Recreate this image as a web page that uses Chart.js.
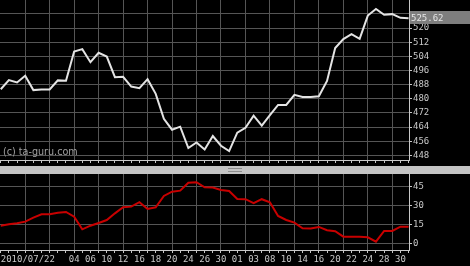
<!DOCTYPE html>
<html>
<head>
<meta charset="utf-8">
<script src="https://cdn.jsdelivr.net/npm/chart.js@4.4.0/dist/chart.umd.min.js"></script>
<style>
  html, body { margin: 0; padding: 0; background: #000; }
  #wrap { position: relative; width: 470px; height: 266px; background: #000; overflow: hidden; }
  #priceChart { position: absolute; left: 0; top: 0; }
  #split { position: absolute; left: 0; top: 166px; width: 470px; height: 8px; background: #c4c4c4; }
  #grip { position: absolute; left: 228px; top: 2px; width: 14px; height: 2px; border-top: 1px solid #8c8c8c; border-bottom: 1px solid #8c8c8c; }
  #oscChart { position: absolute; left: 0; top: 174px; }
  #credit { position: absolute; left: 3px; top: 146px; font: 9.6px "DejaVu Sans"; color: #a0a0a0; }
</style>
</head>
<body>
<div id="wrap">
  <canvas id="priceChart" width="470" height="166"></canvas>
  <div id="credit">(c) ta-guru.com</div>
  <div id="split"><div id="grip"></div></div>
  <canvas id="oscChart" width="470" height="92"></canvas>
</div>
<script>
// daily closes, 2010/07/22 .. 2010/10/01
const closeValues = [
  485.4, 490.6, 489.2, 493.0, 484.9, 485.3, 485.3, 490.4, 490.2, 506.7,
  508.1, 500.7, 506.0, 503.9, 492.2, 492.4, 486.9, 486.0, 491.1, 482.8,
  468.7, 462.5, 464.2, 452.1, 455.3, 451.3, 458.9, 453.4, 450.4, 460.8,
  463.6, 470.4, 464.8, 470.8, 476.5, 476.5, 482.2, 481.0, 481.0, 481.4,
  490.1, 508.7, 513.8, 516.6, 513.9, 527.1, 530.8, 527.5, 527.9, 525.8,
  525.62
];

// lower panel indicator
const oscValues = [
  14.2, 15.3, 16.1, 17.4, 20.6, 23.3, 23.3, 24.5, 25.1, 21.3,
  11.3, 14.2, 16.3, 18.7, 24.0, 28.8, 29.3, 32.8, 27.5, 28.8,
  37.8, 41.2, 42.0, 48.3, 48.7, 44.7, 44.4, 42.5, 41.7, 35.4,
  35.2, 32.0, 35.2, 32.8, 21.9, 18.7, 16.6, 12.1, 12.0, 13.2,
  10.6, 9.8, 5.5, 5.5, 5.5, 5.0, 1.5, 10.0, 10.0, 13.4,
  13.4
];

const xTickLabels = [
  '2010/07/22', '', '', '', '', '', '', '', '', '04',
  '', '06', '', '10', '', '12', '', '16', '', '18',
  '', '20', '', '24', '', '26', '', '30', '', '01',
  '', '03', '', '08', '', '10', '', '14', '', '16',
  '', '20', '', '22', '', '24', '', '28', '', '30',
  ''
];

const priceTicks = { min: 445.34, max: 535.9, step: 8 };
const oscTicks = { min: -5.1, max: 55.2, step: 15 };

const gridGrey = '#555555';
const axisGrey = '#c8c8c8';
const tickFont = { family: 'DejaVu Sans Mono', size: 9 };

function xAxis(showLabels, height) {
  return {
    type: 'linear',
    min: -0.09,
    max: 50.05,
    ticks: {
      stepSize: 1,
      includeBounds: false,
      display: showLabels,
      autoSkip: false,
      maxRotation: 0,
      align: 'inner',
      color: axisGrey,
      font: tickFont,
      padding: 1,
      callback: (v) => xTickLabels[v] || '',
    },
    grid: {
      color: (c) => (c.tick && c.tick.value > 0 && c.tick.value % 3 === 0 ? gridGrey : 'rgba(0,0,0,0)'),
      tickColor: axisGrey,
      tickLength: 3,
    },
    border: { display: true, color: axisGrey },
    afterFit: (s) => {
      s.height = height;
      s.paddingLeft = 0;
      s.paddingRight = 0;
    },
  };
}

function yAxis(range, hideValue) {
  return {
    position: 'right',
    min: range.min,
    max: range.max,
    ticks: {
      stepSize: range.step,
      includeBounds: false,
      color: axisGrey,
      font: tickFont,
      padding: 1,
      callback: (v) => (hideValue !== null && Math.abs(v - hideValue) < 5 ? '' : v),
    },
    grid: { color: gridGrey, tickColor: axisGrey, tickLength: 3 },
    border: { color: axisGrey },
    afterFit: (s) => {
      s.width = 61;
      s.paddingTop = 0;
      s.paddingBottom = 0;
    },
  };
}

// grey tag with the last close on the price axis
const lastPriceTag = {
  id: 'lastPriceTag',
  afterDraw(chart) {
    const last = closeValues[closeValues.length - 1];
    const y = chart.scales.y.getPixelForValue(last);
    const left = chart.chartArea.right;
    const ctx = chart.ctx;
    ctx.save();
    ctx.fillStyle = '#7e7e7e';
    ctx.fillRect(left + 1, Math.round(y) - 7, chart.width - left, 13);
    ctx.fillStyle = '#e6e6e6';
    ctx.font = '9px "DejaVu Sans Mono"';
    ctx.textBaseline = 'middle';
    ctx.fillText(last.toFixed(2), left + 2, y);
    ctx.restore();
  },
};

const baseOptions = {
  responsive: false,
  animation: false,
  events: [],
  layout: { padding: 0 },
  plugins: { legend: { display: false }, tooltip: { enabled: false } },
};

new Chart(document.getElementById('priceChart'), {
  type: 'line',
  data: {
    datasets: [{
      data: closeValues.map((v, i) => ({ x: i, y: v })),
      borderColor: '#e4e4e4',
      borderWidth: 2,
      pointRadius: 0,
      tension: 0,
    }],
  },
  options: {
    ...baseOptions,
    scales: {
      x: xAxis(false, 6),
      y: yAxis(priceTicks, closeValues[closeValues.length - 1]),
    },
  },
  plugins: [lastPriceTag],
});

new Chart(document.getElementById('oscChart'), {
  type: 'line',
  data: {
    datasets: [{
      data: oscValues.map((v, i) => ({ x: i, y: v })),
      borderColor: '#c80000',
      borderWidth: 2,
      pointRadius: 0,
      tension: 0,
    }],
  },
  options: {
    ...baseOptions,
    scales: {
      x: xAxis(true, 16),
      y: yAxis(oscTicks, null),
    },
  },
});
</script>
</body>
</html>
